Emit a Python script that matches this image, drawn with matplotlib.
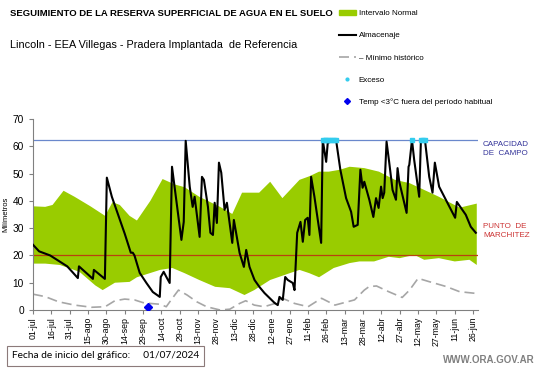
import numpy as np
import matplotlib.pyplot as plt
from matplotlib.lines import Line2D
from matplotlib.patches import Patch

plt.rcParams['font.family'] = ['Liberation Sans', 'DejaVu Sans']

# days since 01/07/2024
upper_days = [0, 10, 16, 25, 34, 47, 59, 65, 71, 79, 85, 96, 106, 116, 124, 136, 153, 163, 171, 185,
              194, 204, 218, 226, 234, 242, 251, 259, 271, 283, 296, 308, 320, 332, 349, 363]
upper_vals = [38, 37.8, 38.5, 43.7, 41.5, 38, 34.5, 39.5, 38.5, 34.5, 32.8, 40, 48, 46, 45, 41.5, 37.8, 35.2, 43, 43,
              47, 41, 47.7, 49, 50.7, 50.7, 51.4, 52.5, 52, 50.7, 47.7, 46.5, 44, 41.5, 37.5, 39]
lower_days = [0, 10, 22, 38, 51, 57, 67, 79, 85, 104, 114, 124, 136, 149, 161, 173, 181, 194, 210, 218,
              226, 234, 246, 259, 267, 279, 291, 300, 312, 320, 332, 345, 357, 363]
lower_vals = [17, 17, 16.5, 14, 9, 7.3, 10, 10.3, 12, 14.7, 15.4, 13.5, 11, 8.5, 8, 5.5, 7.3, 11, 13.5, 14.7,
              13.5, 12, 15.4, 17.2, 17.8, 17.8, 19.5, 19, 20.2, 18.4, 19, 17.8, 18.4, 16.5]

alm_days = [0, 5, 14, 28, 36.7, 37.6, 49, 49.8, 58.8, 60.4, 64.5, 75, 80, 81.6, 83, 87.3, 92.8, 98, 103.7,
            104.5, 106.9, 109.1, 111.8, 113.7, 115.9, 121.4, 123.3, 124.9, 128.2, 130.6, 132.2, 136.3,
            138.2, 139.8, 143.1, 145.1, 147.2, 148.6, 150.4, 152.1, 154, 156.7, 158.6, 163, 164.3, 169,
            172.5, 174.4, 177.1, 181.2, 185.3, 189.4, 197.6, 200.2, 201.6, 204.3, 206.3, 208.4, 212.5,
            213.9, 216.1, 218.8, 220.7, 222.6, 224.7, 226.1, 227.5, 230.2, 235.7, 237, 239.8, 241.1,
            247.9, 251.4, 256.1, 260.2, 262.3, 265.6, 267.8, 269.6, 271, 275.1, 278.4, 280.6, 282.7,
            284.7, 286, 287.3, 289.2, 291.4, 294.1, 296.9, 298.2, 299.6, 305.6, 307.2, 307.8, 310, 311.8,
            315.9, 317.3, 320.6, 324.1, 326.8, 328.7, 332.2, 337.7, 345.3, 346.7, 354, 358.1, 362.2]
alm_vals = [23.9, 21.5, 20, 16, 11.7, 16, 11.4, 14.7, 11.4, 48.5, 41.5, 28, 21, 21, 20, 13.6, 9.9, 6.6, 4.8,
            12.1, 14, 12.1, 9.9, 52.5, 44.8, 25.7, 32.3, 62, 45.2, 37.8, 41.5, 26.8,
            48.8, 47.7, 37.8, 28.3, 27.5, 39.3, 31.9, 54, 50.3, 36.7, 39.3, 24.6, 33, 20.9,
            15.8, 22, 15.8, 11, 8.4, 6.2, 2.6, 1.8, 4.8, 3.7, 12.1, 11, 9.9,
            7.3, 28.3, 32.3, 25, 33, 33.8, 27.5, 48.8, 41.5, 24.6, 62.3, 54.3, 61.3,
            62.3, 51.4, 41, 36, 30.5, 31.2, 51.4, 44.8, 47, 40.4, 34.1, 41, 37.4,
            45.2, 41, 43, 61.7, 54, 44, 40.4, 52, 47, 35.6, 52.5, 53.2, 62.3, 55,
            41.5, 62.3, 62.3, 48.8, 43, 54, 45.2, 40.4, 33.8, 39.6, 34.9, 30.5, 28.3]

min_days = [0, 10, 21, 34, 48, 59, 67, 75, 83, 90, 96, 104, 109, 113, 119, 126, 134, 142, 153, 161,
            169, 174, 181, 189, 198, 204, 214, 225, 236, 247, 263, 271, 275, 281, 291, 302, 308, 315,
            324, 338, 349, 362]
min_vals = [5.8, 4.9, 3, 1.8, 1, 1.2, 3.4, 4, 3.7, 2.7, 2.4, 2.1, 1.2, 3.7, 7.3, 5.5, 3, 1.2, 0, 0.3,
            2.4, 3.4, 1.8, 1.2, 2.4, 4.3, 2.4, 1.2, 4.3, 1.8, 3.7, 7.3, 8.6, 8.8, 6.7, 4.6, 7.3, 11.6,
            10.4, 8.6, 6.7, 6.1]

exceso_days = [237, 238.5, 240, 241.5, 243, 244.5, 246, 247.5, 310, 317.5, 319, 320.5]
exceso_vals = [62.3] * len(exceso_days)
frio_days = [94]
frio_vals = [1.2]

capacidad = 62.3
marchitez = 20

tick_labels = ['01-jul', '16-jul', '31-jul', '15-ago', '30-ago', '14-sep', '29-sep', '14-oct', '29-oct',
               '13-nov', '28-nov', '13-dic', '28-dic', '12-ene', '27-ene', '11-feb', '26-feb', '13-mar',
               '28-mar', '12-abr', '27-abr', '12-may', '27-may', '11-jun', '26-jun']

fig = plt.figure(figsize=(5.41, 3.68), dpi=100)
ax = fig.add_axes([33 / 541, 1 - 310 / 368, 445 / 541, 191 / 368])

green = '#99CC00'
ax.fill(np.concatenate([upper_days, lower_days[::-1]]),
        np.concatenate([upper_vals, lower_vals[::-1]]), color=green, lw=0, zorder=1)
ax.plot(min_days, min_vals, color='#A6A6A6', lw=1.2, dashes=(6, 3), zorder=2)
ax.axhline(capacidad, color='#6A88CC', lw=0.9, zorder=2)
ax.axhline(marchitez, color='#B8420F', lw=0.9, zorder=2)
ax.plot(alm_days, alm_vals, color='black', lw=1.5, zorder=3)
ax.plot(exceso_days, exceso_vals, ls='none', marker='s', ms=2.5, color='#33CCEE', mec='#33CCEE', zorder=4)
ax.plot(frio_days, frio_vals, ls='none', marker='D', ms=4, color='#0000EE', zorder=4)

ax.set_xlim(0, 364)
ax.set_ylim(0, 70)
ax.set_yticks(range(0, 71, 10))
ax.set_xticks(np.arange(len(tick_labels)) * 15)
ax.set_xticklabels(tick_labels, rotation=90, fontsize=6.3)
ax.tick_params(axis='y', labelsize=7.3, length=3, color='#808080')
ax.tick_params(axis='x', length=3, color='#808080', pad=2)
for s in ['top', 'right']:
    ax.spines[s].set_visible(False)
for s in ['left', 'bottom']:
    ax.spines[s].set_color('#808080')
ax.set_ylabel('Milímetros', fontsize=5.5, labelpad=2)

fig.text(483 / 541, 1 - 149 / 368, 'CAPACIDAD\nDE  CAMPO', fontsize=5.8, color='#333399',
         va='center', ha='left', linespacing=1.4)
fig.text(483 / 541, 1 - 231 / 368, 'PUNTO  DE\nMARCHITEZ', fontsize=5.8, color='#CC3333',
         va='center', ha='left', linespacing=1.4)

fig.text(10 / 541, 1 - 14 / 368, 'SEGUIMIENTO DE LA RESERVA SUPERFICIAL DE AGUA EN EL SUELO',
         fontsize=6.8, fontweight='bold', va='center')
fig.text(10 / 541, 1 - 45 / 368, 'Lincoln - EEA Villegas - Pradera Implantada  de Referencia',
         fontsize=7.8, va='center')

handles = [Patch(color=green),
           Line2D([], [], color='black', lw=1.5),
           Line2D([], [], color='#A6A6A6', lw=1.2, dashes=(6, 3)),
           Line2D([], [], ls='none', marker='o', ms=2, color='#33CCEE'),
           Line2D([], [], ls='none', marker='D', ms=3, color='#0000EE')]
labels = ['Intervalo Normal', 'Almacenaje', '– Mínimo histórico', 'Exceso',
          'Temp <3°C fuera del período habitual']
fig.legend(handles, labels, loc='upper left', bbox_to_anchor=(333 / 541, 1 - 4 / 368), frameon=False,
           fontsize=5.8, labelspacing=1.8, handlelength=2.2, handletextpad=0.3, borderpad=0.2)

fig.text(12 / 541, 1 - 356 / 368, 'Fecha de inicio del gráfico:     01/07/2024', fontsize=7.3,
         family=['Lato', 'DejaVu Sans'], va='center',
         bbox=dict(boxstyle='square,pad=0.5', fc='white', ec='#8C7A7A', lw=0.8))
fig.text(535 / 541, 1 - 360 / 368, 'WWW.ORA.GOV.AR', fontsize=7, fontweight='bold', color='#808080',
         ha='right', va='center')

fig.savefig('out.png', dpi=100)
